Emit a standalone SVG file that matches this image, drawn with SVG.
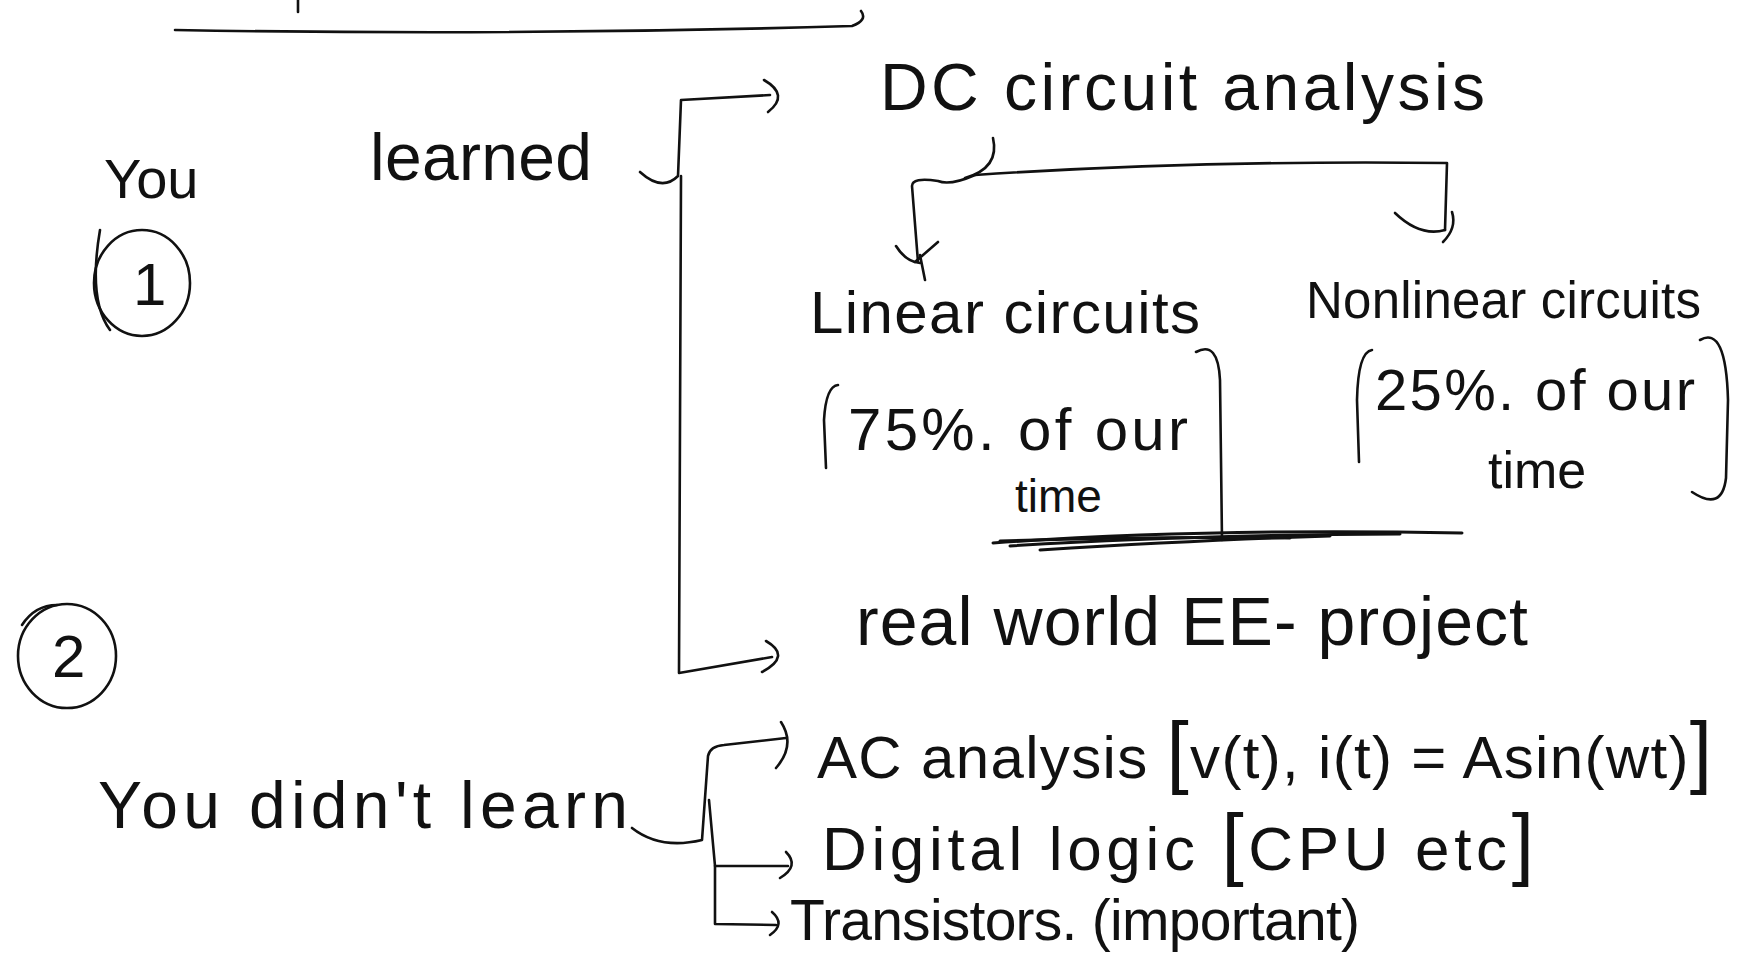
<svg xmlns="http://www.w3.org/2000/svg" width="1743" height="956" viewBox="0 0 1743 956" font-size="62">
<style>
text{font-family:"Liberation Sans","DejaVu Sans",sans-serif;fill:#111}
.s{fill:none;stroke:#111;stroke-width:2.6;stroke-linecap:round;stroke-linejoin:round}
</style>
<rect width="1743" height="956" fill="#fff"/>
<g id="connectors" class="s">
<path d="M175,30 Q520,36 852,26 Q868,20 861,11"/>
<path d="M298,0 L298,12"/>
<path d="M640,172 Q662,192 678,176 L681,100 L770,95"/>
<path d="M764,80 Q790,95 768,112"/>
<path d="M681,176 L679,673 L772,657"/>
<path d="M766,641 Q792,656 762,672"/>
<path d="M993,138 Q1000,168 965,178"/>
<path d="M975,175 Q1200,160 1447,163 L1445,230"/>
<path d="M1395,213 Q1420,237 1445,230"/>
<path d="M1452,212 Q1457,228 1443,242"/>
<path d="M975,175 Q950,186 938,181 Q912,177 912,186 L918,262"/>
<path d="M896,246 Q906,262 920,263"/>
<path d="M938,242 L915,262 M920,255 L925,280"/>
<path d="M632,828 Q660,850 702,840 L708,756 Q710,746 724,745 L786,738"/>
<path d="M781,722 Q796,745 776,768"/>
<path d="M709,800 L715,866 L788,866"/>
<path d="M786,852 Q800,866 780,878"/>
<path d="M715,866 L715,924 L776,925"/>
<path d="M772,912 Q786,924 770,935"/>
</g>
<g id="n_circle1">
<ellipse class="s" cx="142" cy="283" rx="48" ry="53"/>
<path class="s" d="M100,230 Q88,300 110,330"/>
<text x="133" y="305" font-size="60">1</text>
</g>
<g id="n_you_learned">
<text x="104" y="198" font-size="56">You</text>
<text x="370" y="180" textLength="222" font-size="66">learned</text>
</g>
<g id="n_dc">
<text x="880" y="110" textLength="605" font-size="66">DC circuit analysis</text>
</g>
<g id="n_linear">
<text x="810" y="333" textLength="390" font-size="60">Linear circuits</text>
<path class="s" d="M838,385 Q826,386 824,420 L826,468"/>
<text x="848" y="450" textLength="340" font-size="60">75%. of our</text>
<text x="1015" y="512" font-size="46">time</text>
<path class="s" d="M1196,352 Q1218,340 1220,380 L1222,540"/>
</g>
<g id="n_nonlinear">
<text x="1306" y="318" textLength="395" font-size="51">Nonlinear circuits</text>
<path class="s" d="M1372,350 Q1358,352 1357,400 L1359,462"/>
<text x="1375" y="410" textLength="320" font-size="58">25%. of our</text>
<text x="1488" y="488" font-size="52">time</text>
<path class="s" d="M1700,340 Q1726,325 1728,400 L1726,478 Q1722,512 1692,492"/>
</g>
<g id="scribble" class="s">
<path d="M993,543 Q1200,528 1462,533" stroke-width="3"/>
<path d="M1010,546 Q1180,535 1400,534" stroke-width="3"/>
<path d="M1040,550 Q1200,540 1330,536" stroke-width="3"/>
<path d="M1000,541 Q1150,536 1290,538" stroke-width="3"/>
</g>
<g id="n_circle2">
<ellipse class="s" cx="67" cy="656" rx="49" ry="52"/>
<path class="s" d="M57,605 Q35,605 22,625"/>
<text x="52" y="677" font-size="60">2</text>
</g>
<g id="n_real">
<text x="856" y="645" textLength="672" font-size="68">real world EE- project</text>
</g>
<g id="n_didnt">
<text x="98" y="828" textLength="530" font-size="66">You didn't learn</text>
</g>
<g id="n_ac">
<text x="817" y="778" textLength="895" font-size="60">AC analysis <tspan font-size="80">[</tspan>v(t), i(t) = Asin(wt)<tspan font-size="80">]</tspan></text>
</g>
<g id="n_digital">
<text x="822" y="870" textLength="712" font-size="62">Digital logic <tspan font-size="80">[</tspan>CPU etc<tspan font-size="80">]</tspan></text>
</g>
<g id="n_transistors">
<text x="790" y="940" textLength="570" font-size="57">Transistors. (important)</text>
</g>
</svg>
